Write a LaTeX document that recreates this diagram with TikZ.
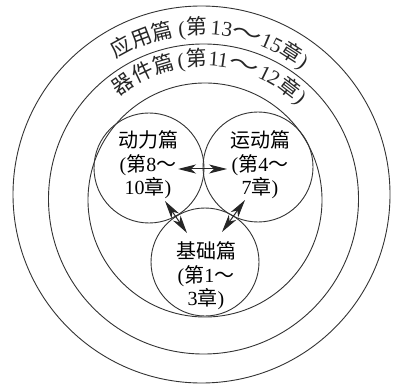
\documentclass[tikz,border=0pt]{standalone}
\usepackage{fontspec}
\setmainfont{Liberation Serif}
\newfontfamily\cjk{Noto Sans CJK SC}
\newcommand\cj[1]{{\cjk #1}}
\newcommand\lp{(}
\newcommand\rp{)}
\newcommand\wtilde{\scalebox{1.45}[1]{\cj{～}}}
\usetikzlibrary{arrows.meta,calc}
\tikzset{
  ring/.style={draw=black!80, line width=0.9pt},
  lbl/.style={align=center, font=\fontsize{20}{23.5}\selectfont, inner sep=0pt},
  arcchar/.style={anchor=base, inner sep=0pt, font=\fontsize{21}{21}\selectfont, text=black!85},
  dbl/.style={draw=black!85, line width=1pt, {Stealth[length=18pt,width=9pt,inset=5pt]}-{Stealth[length=18pt,width=9pt,inset=5pt]}}
}
\begin{document}
\begin{tikzpicture}[x=1pt,y=1pt]
\useasboundingbox (0,0) rectangle (395,391);
\fill[white] (0,0) rectangle (395,391);
% centres
\coordinate (c1) at (201.5,196.5);
\coordinate (c2) at (203.5,192);
\coordinate (c3) at (205,191);
% rings
\draw[ring] (c1) circle[radius=188.5];
\draw[ring] (c2) circle[radius=155];
\draw[ring] (c3) circle[radius=117];
% small circles
\node[ring, circle, minimum size=110pt, inner sep=0pt] (dl) at (149,223) {};
\node[ring, circle, minimum size=110pt, inner sep=0pt] (yd) at (258,224) {};
\node[ring, circle, minimum size=108pt, inner sep=0pt] (jc) at (205,129) {};
% labels
\node[lbl] (tdl) at (148,226) {\cj{动力篇}\\(\cj{第}8\cj{～}\\10\cj{章})};
\node[lbl] (tyd) at (260,226) {\cj{运动篇}\\(\cj{第}4\cj{～}\\7\cj{章})};
\node[lbl] (tjc) at (206,115) {\cj{基础篇}\\(\cj{第}1\cj{～}\\3\cj{章})};
% arc text, outer ring
\foreach \ch/\a [count=\i] in {{\cj{应}}/118.5, {\cj{用}}/111, {\cj{篇}}/103.5, {\lp}/96.8, {\cj{第}}/91.5, {1}/85, {3}/81.2, {\wtilde}/74, {1}/67, {5}/63.3, {\cj{章}}/57.5, {\rp}/52.5}
  \node[arcchar, rotate=\a-90] (o\i) at ($(c1)+(\a:160)$) {\ch};
% arc text, middle ring
\foreach \ch/\a [count=\i] in {{\cj{器}}/125, {\cj{件}}/115.5, {\cj{篇}}/106.5, {\lp}/99.3, {\cj{第}}/93, {1}/85.8, {1}/82, {\wtilde}/73, {1}/64, {2}/59.8, {\cj{章}}/52.5, {\rp}/46}
  \node[arcchar, rotate=\a-90] (m\i) at ($(c2)+(\a:133)$) {\ch};
% arrows
\coordinate (a1) at (178,222);
\coordinate (a2) at (227,222);
\coordinate (b1) at (165,190);
\coordinate (b2) at (187,158);
\coordinate (d1) at (245,191);
\coordinate (d2) at (222,159);
\draw[dbl] (a1) -- (a2);
\draw[dbl] (b1) -- (b2);
\draw[dbl] (d1) -- (d2);
\end{tikzpicture}
\end{document}
